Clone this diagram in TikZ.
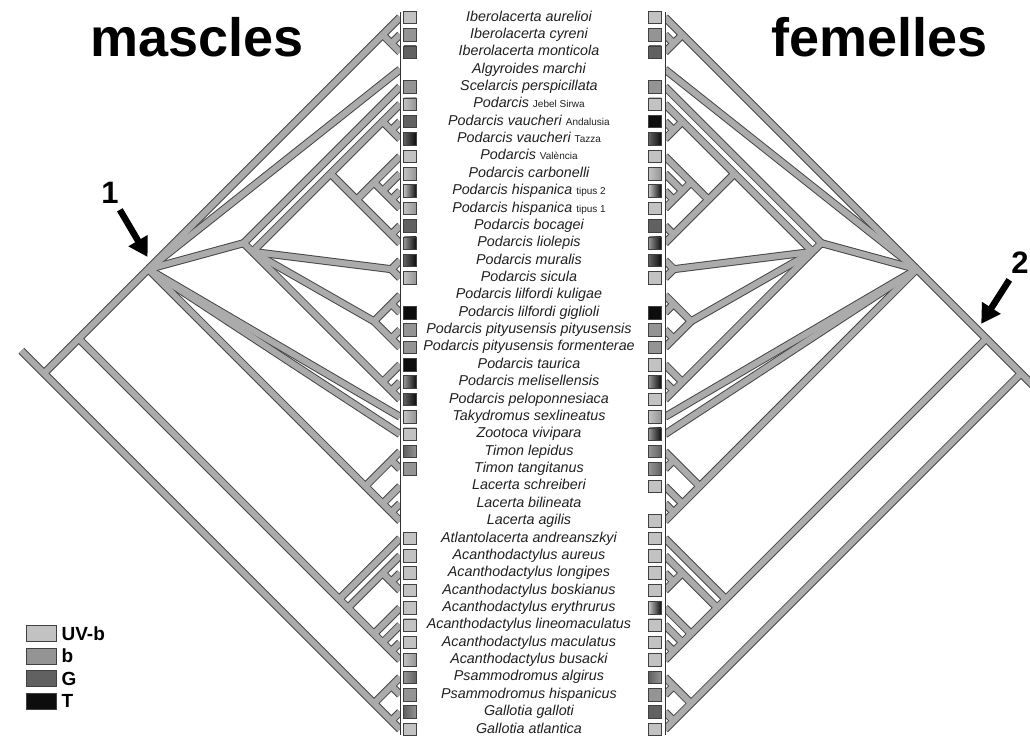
\documentclass[tikz,border=0pt]{standalone}
\usepackage{fontspec}
\setmainfont{Liberation Sans}
\usetikzlibrary{positioning,arrows.meta}

\colorlet{cU}{black!24}
\colorlet{cb}{black!42}
\colorlet{cG}{black!62}
\colorlet{cT}{black!95}

\tikzset{
  band edge/.style={line width=8pt, draw=black!72},
  band core/.style={line width=6pt, draw=black!33},
  tip line/.style={draw=black!80, line width=0.8pt},
  sq/.style 2 args={draw=black!75, line width=0.7pt, minimum size=12.5pt, inner sep=0pt, left color=#1, right color=#2},
  sp/.style={font=\fontsize{14.3}{16}\selectfont\itshape, text=black!88, inner sep=0pt, text height=10.3pt, text depth=3pt},
  title/.style={font=\fontsize{54}{60}\selectfont\bfseries, anchor=base, inner sep=0pt},
  key/.style={draw=black!75, line width=0.8pt, minimum width=30pt, minimum height=16pt, inner sep=0pt},
  keylab/.style={font=\fontsize{19}{22}\selectfont\bfseries, inner sep=0pt},
  pointer/.style={line width=6.5pt, -{Triangle[length=19pt,width=21pt]}},
  num/.style={font=\fontsize{31}{34}\selectfont\bfseries, inner sep=0pt}
}

\newcommand\smallpart[1]{{\upshape\fontsize{10}{12}\selectfont #1}}

% pares/fills de l'arbre
\def\branchlist{root/stub, root/lac, root/gal, lac/lct, lac/ere,
  lct/ibe, lct/t4, lct/sp, lct/t24, lct/t25, lct/tl,
  ibe/t1, ibe/icm, icm/t2, icm/t3,
  sp/t5, sp/pod, pod/ib, pod/ms, pod/lp, pod/tmp,
  ib/a, ib/b, a/t6, a/v, v/t7, v/t8,
  b/c, b/f, c/t9, c/d, d/t10, d/e, e/t11, e/t12, f/t13, f/t14,
  ms/t15, ms/t16, lp/lil, lp/pit, lil/t17, lil/t18, pit/t19, pit/t20,
  tmp/t21, tmp/mp, mp/t22, mp/t23,
  tl/tim, tl/lcr, tim/t26, tim/t27, lcr/t28, lcr/lb, lb/t29, lb/t30,
  ere/t31, ere/aca, aca/ac1, aca/ac2, ac1/t32, ac1/acb, acb/t33, acb/t34,
  ac2/t35, ac2/ac3, ac3/t36, ac3/ac4, ac4/t37, ac4/t38,
  gal/psa, gal/gll, psa/t39, psa/t40, gll/t41, gll/t42}

% #1 prefix, #2 extrem de l'arrel
\newcommand\lizardtree[2]{%
  \def\xt{23.034}
  \foreach \i in {1,...,42} \coordinate (#1t\i) at (\xt,\i);
  \coordinate (#1root) at ({\xt-20.5},21.5);
  \coordinate (#1stub) at #2;
  \coordinate (#1lac) at ({\xt-18.5},19.5);
  \coordinate (#1gal) at ({\xt-1.5},40.5);
  \coordinate (#1lct) at ({\xt-14.5},15.5);
  \coordinate (#1ere) at ({\xt-3.5},34.5);
  \coordinate (#1ibe) at ({\xt-1},2);
  \coordinate (#1icm) at ({\xt-.5},2.5);
  \coordinate (#1sp) at ({\xt-9},14);
  \coordinate (#1pod) at ({\xt-8.5},14.5);
  \coordinate (#1ib) at ({\xt-4},10);
  \coordinate (#1a) at ({\xt-1},7);
  \coordinate (#1v) at ({\xt-.5},7.5);
  \coordinate (#1b) at ({\xt-2.5},11.5);
  \coordinate (#1c) at ({\xt-1.5},10.5);
  \coordinate (#1d) at ({\xt-1},11);
  \coordinate (#1e) at ({\xt-.5},11.5);
  \coordinate (#1f) at ({\xt-.5},13.5);
  \coordinate (#1ms) at ({\xt-.5},15.5);
  \coordinate (#1lp) at ({\xt-1.5},18.5);
  \coordinate (#1lil) at ({\xt-.5},17.5);
  \coordinate (#1pit) at ({\xt-.5},19.5);
  \coordinate (#1tmp) at ({\xt-1},22);
  \coordinate (#1mp) at ({\xt-.5},22.5);
  \coordinate (#1tl) at ({\xt-2},28);
  \coordinate (#1tim) at ({\xt-.5},26.5);
  \coordinate (#1lcr) at ({\xt-1},29);
  \coordinate (#1lb) at ({\xt-.5},29.5);
  \coordinate (#1aca) at ({\xt-3},35);
  \coordinate (#1ac1) at ({\xt-1},33);
  \coordinate (#1acb) at ({\xt-.5},33.5);
  \coordinate (#1ac2) at ({\xt-1.5},36.5);
  \coordinate (#1ac3) at ({\xt-1},37);
  \coordinate (#1ac4) at ({\xt-.5},37.5);
  \coordinate (#1psa) at ({\xt-.5},39.5);
  \coordinate (#1gll) at ({\xt-.5},41.5);
  \begin{scope}
    \clip (\xt,-1) rectangle (-3,44);
    \foreach \p/\q in \branchlist \draw[band edge] (#1\p) -- (#1\q);
    \foreach \p/\q in \branchlist \draw[band core] (#1\p) -- (#1\q);
  \end{scope}
  \draw[tip line] (\xt,0.7) -- (\xt,42.35);
}

\begin{document}
\begin{tikzpicture}[x=17.366pt, y=-17.366pt]
  \useasboundingbox (0,0) rectangle (59.31,42.5);

  % arbres: mascles a l'esquerra, femelles a la dreta (mirall)
  \begin{scope}
    \lizardtree{L}{(1.234,20.2)}
  \end{scope}
  \begin{scope}[shift={(61.327,0)}, xscale=-1]
    \lizardtree{R}{(1.034,23)}
  \end{scope}

  % titols
  \node[title] (masc) at (11.34,3.25) {mascles};
  \node[title] (fem) at (50.67,3.25) {femelles};

  % fletxes
  \node[num] (one) at (6.33,11.11) {1};
  \coordinate (p1) at (8.5,14.8);
  \draw[pointer, shorten <=7pt] (one) -- (p1);
  \node[num] (two) at (58.74,15.14) {2};
  \coordinate (p2) at (56.5,18.65);
  \draw[pointer, shorten <=7pt] (two) -- (p2);

  % quadrats mascles
  \foreach \i/\cl/\cr in {1/cU/cU, 2/cb/cb, 3/cG/cG, 5/cb/cb, 6/cU/cb, 7/cG/cG, 8/cG/cT,
      9/cU/cU, 10/cU/cb, 11/cU/cT, 12/cU/cb, 13/cG/cG, 14/cb/cT, 15/cG/cT, 16/cU/cb,
      18/cT/cT, 19/cb/cb, 20/cb/cb, 21/cT/cT, 22/cb/cT, 23/cG/cT, 24/cU/cb, 25/cU/cU,
      26/cG/cb, 27/cb/cb, 31/cU/cU, 32/cU/cU, 33/cU/cU, 34/cU/cU, 35/cU/cU, 36/cU/cU,
      37/cU/cU, 38/cU/cb, 39/cb/cG, 40/cb/cb, 41/cG/cb, 42/cU/cU}
    \node[sq={\cl}{\cr}] (qL\i) at (23.61,\i) {};

  % quadrats femelles
  \foreach \i/\cl/\cr in {1/cU/cU, 2/cb/cb, 3/cG/cG, 5/cb/cb, 6/cU/cU, 7/cT/cT, 8/cG/cT,
      9/cU/cU, 10/cU/cb, 11/cU/cT, 12/cU/cU, 13/cG/cG, 14/cb/cT, 15/cG/cT, 16/cU/cU,
      18/cT/cT, 19/cb/cb, 20/cb/cb, 21/cU/cU, 22/cb/cT, 23/cU/cU, 24/cU/cb, 25/cb/cT,
      26/cb/cG, 27/cb/cG, 28/cU/cU, 30/cU/cU, 31/cU/cU, 32/cU/cU, 33/cU/cU, 34/cU/cU,
      35/cU/cT, 36/cU/cU, 37/cU/cU, 38/cU/cU, 39/cG/cb, 40/cb/cb, 41/cG/cG, 42/cU/cU}
    \node[sq={\cl}{\cr}] (qR\i) at (37.72,\i) {};

  % especies
  \node[sp] (s1) at (30.46,1) {Iberolacerta aurelioi};
  \node[sp] (s2) at (30.46,2) {Iberolacerta cyreni};
  \node[sp] (s3) at (30.46,3) {Iberolacerta monticola};
  \node[sp] (s4) at (30.46,4) {Algyroides marchi};
  \node[sp] (s5) at (30.46,5) {Scelarcis perspicillata};
  \node[sp] (s6) at (30.46,6) {Podarcis \smallpart{Jebel Sirwa}};
  \node[sp] (s7) at (30.46,7) {Podarcis vaucheri \smallpart{Andalusia}};
  \node[sp] (s8) at (30.46,8) {Podarcis vaucheri \smallpart{Tazza}};
  \node[sp] (s9) at (30.46,9) {Podarcis \smallpart{València}};
  \node[sp] (s10) at (30.46,10) {Podarcis carbonelli};
  \node[sp] (s11) at (30.46,11) {Podarcis hispanica \smallpart{tipus 2}};
  \node[sp] (s12) at (30.46,12) {Podarcis hispanica \smallpart{tipus 1}};
  \node[sp] (s13) at (30.46,13) {Podarcis bocagei};
  \node[sp] (s14) at (30.46,14) {Podarcis liolepis};
  \node[sp] (s15) at (30.46,15) {Podarcis muralis};
  \node[sp] (s16) at (30.46,16) {Podarcis sicula};
  \node[sp] (s17) at (30.46,17) {Podarcis lilfordi kuligae};
  \node[sp] (s18) at (30.46,18) {Podarcis lilfordi giglioli};
  \node[sp] (s19) at (30.46,19) {Podarcis pityusensis pityusensis};
  \node[sp] (s20) at (30.46,20) {Podarcis pityusensis formenterae};
  \node[sp] (s21) at (30.46,21) {Podarcis taurica};
  \node[sp] (s22) at (30.46,22) {Podarcis melisellensis};
  \node[sp] (s23) at (30.46,23) {Podarcis peloponnesiaca};
  \node[sp] (s24) at (30.46,24) {Takydromus sexlineatus};
  \node[sp] (s25) at (30.46,25) {Zootoca vivipara};
  \node[sp] (s26) at (30.46,26) {Timon lepidus};
  \node[sp] (s27) at (30.46,27) {Timon tangitanus};
  \node[sp] (s28) at (30.46,28) {Lacerta schreiberi};
  \node[sp] (s29) at (30.46,29) {Lacerta bilineata};
  \node[sp] (s30) at (30.46,30) {Lacerta agilis};
  \node[sp] (s31) at (30.46,31) {Atlantolacerta andreanszkyi};
  \node[sp] (s32) at (30.46,32) {Acanthodactylus aureus};
  \node[sp] (s33) at (30.46,33) {Acanthodactylus longipes};
  \node[sp] (s34) at (30.46,34) {Acanthodactylus boskianus};
  \node[sp] (s35) at (30.46,35) {Acanthodactylus erythrurus};
  \node[sp] (s36) at (30.46,36) {Acanthodactylus lineomaculatus};
  \node[sp] (s37) at (30.46,37) {Acanthodactylus maculatus};
  \node[sp] (s38) at (30.46,38) {Acanthodactylus busacki};
  \node[sp] (s39) at (30.46,39) {Psammodromus algirus};
  \node[sp] (s40) at (30.46,40) {Psammodromus hispanicus};
  \node[sp] (s41) at (30.46,41) {Gallotia galloti};
  \node[sp] (s42) at (30.46,42) {Gallotia atlantica};

  % llegenda
  \node[key, fill=cU] (kU) at (2.36,36.48) {};
  \node[key, fill=cb] (kb) at (2.36,37.77) {};
  \node[key, fill=cG] (kG) at (2.36,39.08) {};
  \node[key, fill=cT] (kT) at (2.36,40.39) {};
  \node[keylab, right=5pt of kU] (lU) {UV-b};
  \node[keylab, right=5pt of kb] (lb) {b};
  \node[keylab, right=5pt of kG] (lG) {G};
  \node[keylab, right=5pt of kT] (lT) {T};
\end{tikzpicture}
\end{document}
